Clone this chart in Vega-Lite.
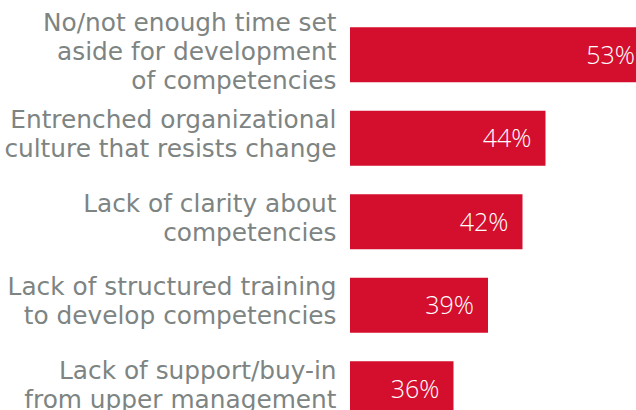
{
  "$schema": "https://vega.github.io/schema/vega-lite/v6.json",
  "width": 286,
  "height": 397,
  "autosize": "none",
  "padding": {"left": 350, "top": 13, "right": 0, "bottom": 0},
  "background": "white",
  "config": {"view": {"stroke": null}},
  "data": {
    "values": [
      {"reason": "No/not enough time set|aside for development|of competencies", "pct": 53},
      {"reason": "Entrenched organizational|culture that resists change", "pct": 44},
      {"reason": "Lack of clarity about|competencies", "pct": 42},
      {"reason": "Lack of structured training|to develop competencies", "pct": 39},
      {"reason": "Lack of support/buy-in|from upper management", "pct": 36}
    ]
  },
  "encoding": {
    "y": {
      "field": "reason",
      "type": "nominal",
      "sort": null,
      "scale": {"range": [0, 417.5], "paddingInner": 0.34, "paddingOuter": 0.17},
      "axis": {
        "title": null,
        "domain": false,
        "ticks": false,
        "labelExpr": "split(datum.label, '|')",
        "labelFont": "DejaVu Sans",
        "labelFontSize": 24.8,
        "labelColor": "#7d8482",
        "labelLineHeight": 29,
        "labelPadding": 14,
        "labelLimit": 400,
        "labelAlign": "right",
        "labelBaseline": "middle",
        "labelOffset": {"condition": {"test": "indexof(datum.value, 'No/not') >= 0", "value": -31}, "value": -17}
      }
    },
    "x": {
      "field": "pct",
      "type": "quantitative",
      "scale": {"domain": [27, 51.87], "zero": false, "nice": false, "clamp": false},
      "axis": null
    }
  },
  "layer": [
    {"mark": {"type": "bar", "color": "#d40e2d", "clip": true}},
    {
      "mark": {"type": "text", "align": "right", "baseline": "middle", "dx": -14, "dy": 1, "color": "white", "font": "Open Sans", "fontSize": 25, "fontWeight": 300, "text": {"expr": "datum.pct + '%'"}}
    }
  ]
}
